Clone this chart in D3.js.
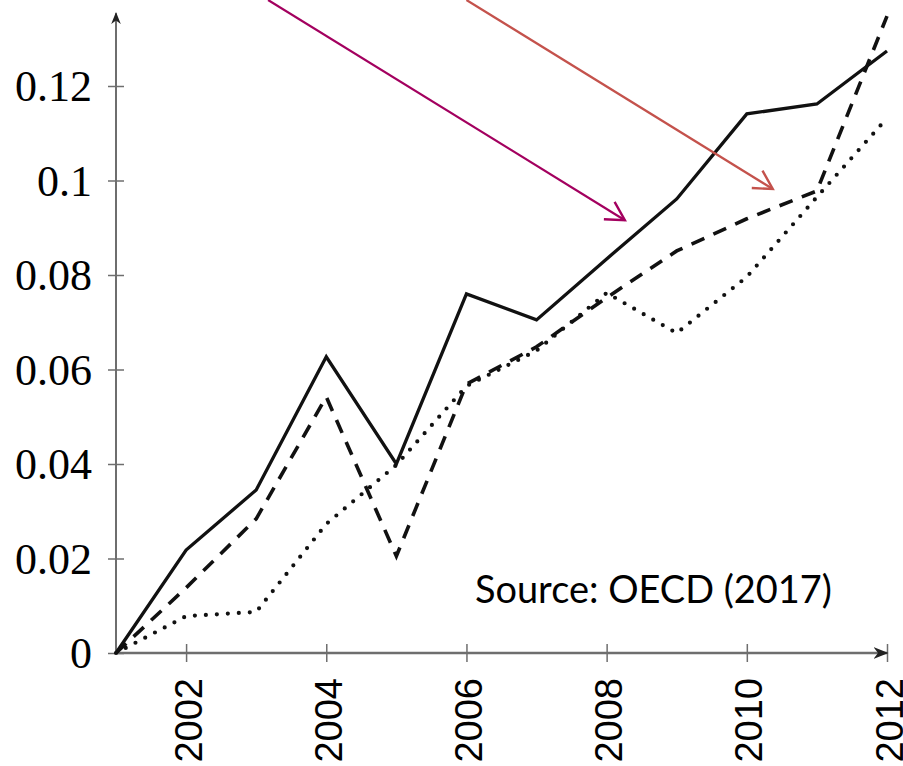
<!DOCTYPE html>
<html><head><meta charset="utf-8">
<script src="https://cdn.jsdelivr.net/npm/d3@7/dist/d3.min.js"></script>
<style>html,body{margin:0;padding:0;background:#fff;overflow:hidden}</style>
</head><body>
<svg id="chart" width="903" height="766"></svg>
<script>
const years = [2001,2002,2003,2004,2005,2006,2007,2008,2009,2010,2011,2012];
const solidSeries  = [0, 0.0218, 0.0345, 0.0627, 0.0400, 0.0760, 0.0705, 0.0834, 0.0961, 0.1141, 0.1162, 0.1274];
const dashedSeries = [0, 0.0138, 0.0284, 0.0542, 0.0205, 0.0569, 0.0648, 0.0752, 0.0851, 0.0919, 0.0978, 0.1348];
const dottedSeries = [0, 0.0078, 0.0087, 0.0273, 0.0398, 0.0565, 0.0640, 0.0762, 0.0677, 0.0796, 0.0965, 0.1132];
const xTickValues = [2002,2004,2006,2008,2010,2012];
const yTickValues = [0,0.02,0.04,0.06,0.08,0.1,0.12];
const yTickLabels = ["0","0.02","0.04","0.06","0.08","0.1","0.12"];
const yAxisMax = 0.1354;
const sourceText = "Source: OECD (2017)";
// annotation arrows in data units: [startYear, startValue, endYear, endValue]
const arrowPurple = [2003.17, 0.1382, 2008.26, 0.0916];
const arrowRed    = [2006.0, 0.1382, 2010.37, 0.0982];

const svg = d3.select("#chart");
const x = d3.scaleLinear().domain([2001, 2012]).range([116, 887]);
const y = d3.scaleLinear().domain([0, 0.12]).range([653, 86]);

const axisColor = "#6e6e6e";

// Y axis
const yAxis = svg.append("g").attr("transform", `translate(${x(2001)},0)`)
  .call(d3.axisLeft(y).tickValues(yTickValues).tickSize(8)
        .tickFormat((d,i)=>yTickLabels[i]));
yAxis.select(".domain").remove();
yAxis.selectAll(".tick line").attr("x1",-8).attr("x2",8).attr("stroke",axisColor).attr("stroke-width",1.5);
yAxis.selectAll(".tick text").attr("x",-24).attr("dy","0.34em")
  .attr("font-family","'Liberation Serif','Times New Roman',serif").attr("font-size",44).attr("fill","#000");

// X axis
const xAxis = svg.append("g").attr("transform", `translate(0,${y(0)})`)
  .call(d3.axisBottom(x).tickValues(xTickValues).tickSize(9).tickFormat(d3.format("d")));
xAxis.select(".domain").remove();
xAxis.selectAll(".tick line").attr("y1",-9).attr("y2",9).attr("stroke",axisColor).attr("stroke-width",1.5);
xAxis.selectAll(".tick text")
  .attr("transform","rotate(-90)").attr("x",-25).attr("y",15).attr("dy",0)
  .attr("text-anchor","end")
  .attr("font-family","'Liberation Sans',Arial,sans-serif").attr("font-size",38).attr("fill","#000");

// axis lines with arrows
const defs = svg.append("defs");
defs.append("marker").attr("id","axArrow").attr("viewBox","0 0 10 10").attr("refX",9).attr("refY",5)
  .attr("markerWidth",6).attr("markerHeight",6).attr("markerUnits","strokeWidth").attr("orient","auto")
  .append("path").attr("d","M0,1 L10,5 L0,9 L3,5 Z").attr("fill","#222");
svg.append("line").attr("x1",x(2001)).attr("x2",x(2001)).attr("y1",y(0)).attr("y2",y(yAxisMax))
  .attr("stroke",axisColor).attr("stroke-width",2).attr("marker-end","url(#axArrow)");
svg.append("line").attr("x1",x(2001)).attr("x2",x(2012)).attr("y1",y(0)).attr("y2",y(0))
  .attr("stroke",axisColor).attr("stroke-width",2.5).attr("marker-end","url(#axArrow)");

// series
const line = d3.line().x((d,i)=>x(years[i])).y(d=>y(d));
svg.append("path").datum(dottedSeries).attr("d",line).attr("fill","none").attr("stroke","#111")
  .attr("stroke-width",4.2).attr("stroke-linecap","round").attr("stroke-dasharray","0,11");
svg.append("path").datum(dashedSeries).attr("d",line).attr("fill","none").attr("stroke","#111")
  .attr("stroke-width",3.6).attr("stroke-dasharray","14,10");
svg.append("path").datum(solidSeries).attr("d",line).attr("fill","none").attr("stroke","#111")
  .attr("stroke-width",3.3).attr("stroke-linejoin","miter");

// source text
svg.append("text").attr("x",475).attr("y",603).text(sourceText)
  .attr("font-family","Lato,'Open Sans',sans-serif").attr("font-size",39).attr("fill","#000")
  .attr("textLength",357).attr("lengthAdjust","spacingAndGlyphs");

// annotation arrows (open chevron heads)
function drawArrow(a, color){
  const x1=x(a[0]), y1=y(a[1]), x2=x(a[2]), y2=y(a[3]);
  svg.append("line").attr("x1",x1).attr("y1",y1).attr("x2",x2).attr("y2",y2)
    .attr("stroke",color).attr("stroke-width",2.2);
  const ang = Math.atan2(y2-y1, x2-x1), L = 21, spread = Math.PI/6.2;
  const p1 = [x2 - L*Math.cos(ang-spread), y2 - L*Math.sin(ang-spread)];
  const p2 = [x2 - L*Math.cos(ang+spread), y2 - L*Math.sin(ang+spread)];
  svg.append("path").attr("d",`M${p1[0]},${p1[1]} L${x2},${y2} L${p2[0]},${p2[1]}`)
    .attr("fill","none").attr("stroke",color).attr("stroke-width",2.4);
}
drawArrow(arrowPurple, "#a3005f");
drawArrow(arrowRed, "#c4524c");
</script>
</body></html>
